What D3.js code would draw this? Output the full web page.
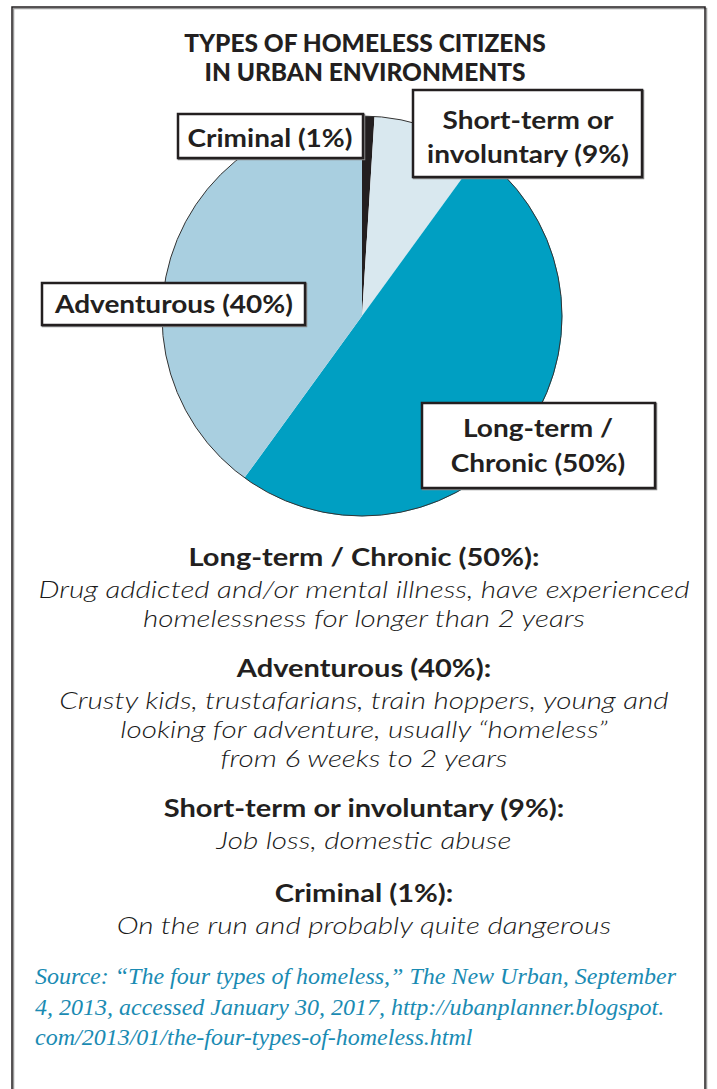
<!DOCTYPE html>
<html>
<head>
<meta charset="utf-8">
<script src="https://cdn.jsdelivr.net/npm/d3@7/dist/d3.min.js"></script>
<style>
  html, body { margin: 0; padding: 0; background: #fff; }
  svg { display: block; }
</style>
</head>
<body>
<svg id="chart" width="717" height="1089"></svg>
<script>
// ---------- DATA ----------
const categories = ["Criminal", "Short-term or involuntary", "Long-term / Chronic", "Adventurous"];
const values = [1, 9, 50, 40];
const sliceColors = ["#231f20", "#d9e8ef", "#009fc2", "#a9cfe0"];
const boxLabels = [
  ["Criminal (1%)"],
  ["Short-term or", "involuntary (9%)"],
  ["Long-term /", "Chronic (50%)"],
  ["Adventurous (40%)"]
];
const titleLines = ["TYPES OF HOMELESS CITIZENS", "IN URBAN ENVIRONMENTS"];
const headings = ["Long-term / Chronic (50%):", "Adventurous (40%):", "Short-term or involuntary (9%):", "Criminal (1%):"];
const descriptions = [
  ["Drug addicted and/or mental illness, have experienced", "homelessness for longer than 2 years"],
  ["Crusty kids, trustafarians, train hoppers, young and", "looking for adventure, usually \u201chomeless\u201d", "from 6 weeks to 2 years"],
  ["Job loss, domestic abuse"],
  ["On the run and probably quite dangerous"]
];
const sourceLines = [
  "Source: \u201cThe four types of homeless,\u201d The New Urban, September",
  "4, 2013, accessed January 30, 2017, http://ubanplanner.blogspot.",
  "com/2013/01/the-four-types-of-homeless.html"
];

// ---------- LAYOUT ----------
const W = 717, H = 1089;
const ink = "#231f20";
const sansBold = "Lato, 'Open Sans', sans-serif";
const svg = d3.select("#chart");

// outer frame
svg.append("rect").attr("x", 13.5).attr("y", 8.5).attr("width", 693).attr("height", 1100)
  .attr("fill", "none").attr("stroke", "#999").attr("stroke-width", 1.5);
svg.append("rect").attr("x", 12).attr("y", 7).attr("width", 693).attr("height", 1100)
  .attr("fill", "none").attr("stroke", ink).attr("stroke-width", 1.5);

// stretch helper: scale text horizontally by factor k using textLength
function stretch(sel, k) {
  sel.each(function() {
    const w = this.getComputedTextLength();
    d3.select(this).attr("textLength", w * k).attr("lengthAdjust", "spacingAndGlyphs");
  });
}

// title
const titleY = [52, 81];
const title = svg.append("g").selectAll("text").data(titleLines).join("text")
  .attr("x", 365).attr("y", (d, i) => titleY[i])
  .attr("text-anchor", "middle")
  .attr("font-family", sansBold).attr("font-weight", 900).attr("font-size", 25)
  .attr("fill", ink).text(d => d);
stretch(title, 0.98);

// pie
const cx = 362, cy = 316, R = 200;
const pie = d3.pie().sort(null).value(d => d);
const arc = d3.arc().innerRadius(0).outerRadius(R);
const gPie = svg.append("g").attr("transform", `translate(${cx},${cy})`);
gPie.selectAll("path").data(pie(values)).join("path")
  .attr("d", arc).attr("fill", (d, i) => sliceColors[i]);
gPie.append("circle").attr("r", R).attr("fill", "none").attr("stroke", "#333").attr("stroke-width", 1);

// label boxes (order matches categories)
const boxLayout = [
  { x: 178, y: 114, w: 185, h: 44, base: [147], cxText: 270 },
  { x: 413, y: 90, w: 229, h: 87, base: [129, 163], cxText: 528 },
  { x: 422, y: 403, w: 233, h: 85, base: [437, 472], cxText: 538 },
  { x: 42, y: 283, w: 263, h: 42, base: [313], cxText: 174 }
];
const gBoxes = svg.append("g");
boxLayout.forEach((b, i) => {
  const g = gBoxes.append("g");
  g.append("rect").attr("x", b.x + 1).attr("y", b.y + 1).attr("width", b.w).attr("height", b.h)
    .attr("fill", "none").attr("stroke", "#888").attr("stroke-width", 2.5);
  g.append("rect").attr("x", b.x).attr("y", b.y).attr("width", b.w).attr("height", b.h)
    .attr("fill", "#fff").attr("stroke", ink).attr("stroke-width", 2.5);
  const t = g.selectAll("text").data(boxLabels[i]).join("text")
    .attr("x", b.cxText).attr("y", (d, j) => b.base[j])
    .attr("text-anchor", "middle")
    .attr("font-family", sansBold).attr("font-weight", 700).attr("font-size", 25)
    .attr("fill", ink).text(d => d);
  stretch(t, 1.12);
});

// descriptions
const blockY = [566, 677, 817, 902];
const descOffset = 32, descStep = 29;
const gDesc = svg.append("g");
headings.forEach((h, i) => {
  const ht = gDesc.append("text").attr("x", 364).attr("y", blockY[i])
    .attr("text-anchor", "middle")
    .attr("font-family", sansBold).attr("font-weight", 700).attr("font-size", 24)
    .attr("fill", ink).text(h);
  stretch(ht, 1.21);
  const dt = gDesc.selectAll(null).data(descriptions[i]).join("text")
    .attr("x", 364).attr("y", (d, j) => blockY[i] + descOffset + j * descStep)
    .attr("text-anchor", "middle")
    .attr("font-family", "Lato, sans-serif").attr("font-style", "italic").attr("font-weight", 300)
    .attr("font-size", 23).attr("fill", "#1a1a1a").text(d => d);
  stretch(dt, 1.29);
});

// source
const srcY = [984, 1015, 1045];
const src = svg.append("g").selectAll("text").data(sourceLines).join("text")
  .attr("x", 35).attr("y", (d, i) => srcY[i])
  .attr("font-family", "'Liberation Serif', 'Times New Roman', serif").attr("font-style", "italic")
  .attr("font-size", 24).attr("fill", "#1a8bb3").text(d => d);
stretch(src, 1.0);
</script>
</body>
</html>
